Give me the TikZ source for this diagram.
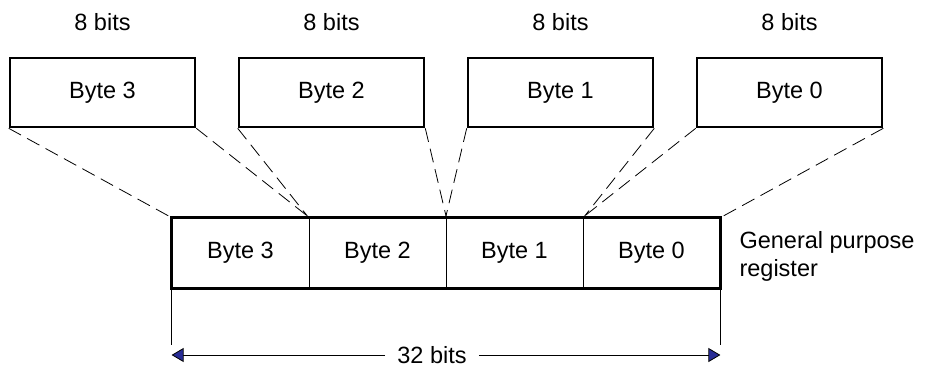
\documentclass[tikz,border=0pt]{standalone}
\usepackage{fontspec}
\setmainfont{Liberation Sans}
\usetikzlibrary{arrows.meta}
\definecolor{arrowblue}{RGB}{40,44,150}
\tikzstyle{bytebox} = [rectangle, draw=black, line width=2.6pt, minimum width=185pt, minimum height=69pt, inner sep=0pt]
\tikzstyle{regcell} = [rectangle, draw=black, line width=0.8pt, minimum width=137pt, minimum height=70pt, inner sep=0pt]
\tikzstyle{fanline} = [line width=0.8pt, dash pattern=on 14pt off 7pt]
\tikzstyle{dimarrow} = [line width=0.8pt, -{Triangle[length=12pt, width=14pt, fill=arrowblue]}]

\begin{document}
\begin{tikzpicture}[x=1pt, y=-1pt, font=\fontsize{23.5}{28}\selectfont]
	\useasboundingbox (0,0) rectangle (926,365);
	% top bytes and register cells
	\foreach \i/\n in {0/3, 1/2, 2/1, 3/0} {
		\node [bytebox] (b\n) at (102.5+229*\i, 92.5) {Byte \n};
		\node (l\n) at (102.5+229*\i, 22) {8 bits};
		\node [regcell] (r\n) at (240.5+137*\i, 253) {Byte \n};
	}
	\draw [line width=2.6pt] (r3.north west) rectangle (r0.south east);
	% fan out
	\foreach \n in {3, 2, 1, 0} {
		\draw [fanline] (b\n.south west) -- (r\n.north west);
		\draw [fanline] (b\n.south east) -- (r\n.north east);
	}
	\node [anchor=west, align=left] (gpr) at (736, 256) {General purpose\\register};
	% width of the register
	\coordinate (dl) at ([yshift=10pt]r3.south west);
	\coordinate (dr) at ([yshift=10pt]r0.south east);
	\draw [line width=0.8pt] (dl) -- ++(0,67);
	\draw [line width=0.8pt] (dr) -- ++(0,67);
	\node [inner sep=12pt] (w) at (432, 355) {32 bits};
	\draw [dimarrow] (w.west) -- (w.west -| dl);
	\draw [dimarrow] (w.east) -- (w.east -| dr);
\end{tikzpicture}
\end{document}
